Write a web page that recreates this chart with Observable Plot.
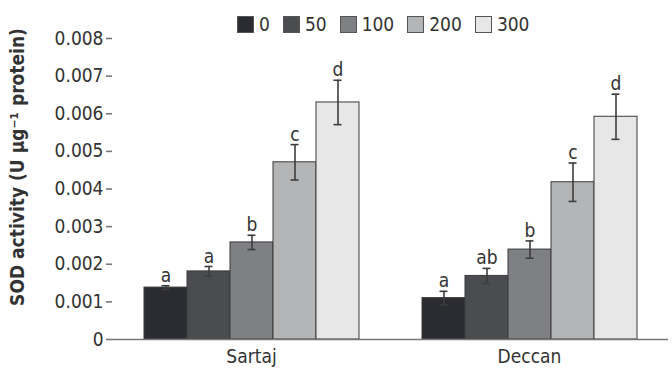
<!DOCTYPE html>
<html><head><meta charset="utf-8">
<script src="https://cdn.jsdelivr.net/npm/d3@7"></script>
<script src="https://cdn.jsdelivr.net/npm/@observablehq/plot@0.6"></script>
<style>
body{margin:0;background:#fff;font-family:"DejaVu Sans Condensed","Liberation Sans",sans-serif;}
#wrap{position:relative;width:672px;height:375px;}
#legend{position:absolute;left:237px;top:15px;display:flex;align-items:center;font-size:19px;color:#333;}
.item{display:flex;align-items:center;margin-right:13px;line-height:19px}
.sw{width:17px;height:17px;border:1px solid #555;box-sizing:border-box;margin-right:5px}
</style></head><body>
<div id="wrap"><div id="chart"></div><div id="legend"></div></div>
<script>
const groups = ["Sartaj", "Deccan"];
const doses = ["0", "50", "100", "200", "300"];
const sartajMeans = [0.00138, 0.00181, 0.00258, 0.00471, 0.00630];
const sartajErrors = [0.00005, 0.00013, 0.00019, 0.00047, 0.00059];
const sartajLetters = ["a", "a", "b", "c", "d"];
const deccanMeans = [0.00110, 0.00169, 0.00239, 0.00418, 0.00592];
const deccanErrors = [0.00018, 0.00020, 0.00023, 0.00051, 0.00060];
const deccanLetters = ["a", "ab", "b", "c", "d"];
const doseColors = ["#2b2c31", "#4a4c50", "#7f8083", "#b4b5b7", "#e7e7e7"];
const yTicks = [0, 0.001, 0.002, 0.003, 0.004, 0.005, 0.006, 0.007, 0.008];
const yTitle = "SOD activity (U µg⁻¹ protein)";

const rows = [];
doses.forEach((d, i) => {
  rows.push({group: "Sartaj", dose: d, mean: sartajMeans[i], err: sartajErrors[i], letter: sartajLetters[i]});
});
doses.forEach((d, i) => {
  rows.push({group: "Deccan", dose: d, mean: deccanMeans[i], err: deccanErrors[i], letter: deccanLetters[i]});
});

// legend
const leg = document.getElementById("legend");
doses.forEach((d, i) => {
  const it = document.createElement("div"); it.className = "item";
  const sw = document.createElement("div"); sw.className = "sw"; sw.style.background = doseColors[i];
  const tx = document.createElement("span"); tx.textContent = d;
  it.appendChild(sw); it.appendChild(tx); leg.appendChild(it);
});

const axisGray = "#777";
const font = "'DejaVu Sans Condensed', 'Liberation Sans', sans-serif";
const lines = Plot.text(groups, {
  fx: d => d, text: d => "",
  render(index, scales, values, dimensions, context) {
    const g = d3.create("svg:g");
    const [x0, x1] = scales.x.range();
    const y0 = scales.y(0), yTop = scales.y(yTicks[yTicks.length - 1]);
    const name = groups[index[0]];
    if (name === groups[0]) {
      g.append("line").attr("x1", x0).attr("x2", x0).attr("y1", yTop).attr("y2", y0 + 1)
        .attr("stroke", axisGray).attr("stroke-width", 1.6);
      g.append("line").attr("x1", x0).attr("x2", x0 + 4).attr("y1", y0).attr("y2", y0)
        .attr("stroke", axisGray).attr("stroke-width", 1.6);
    }
    g.append("line").attr("x1", x1).attr("x2", x1).attr("y1", y0).attr("y2", y0 + 6)
      .attr("stroke", axisGray).attr("stroke-width", 1.6);
    return g.node();
  }
});

const chart = Plot.plot({
  width: 672,
  height: 375,
  marginTop: 38,
  marginBottom: 36,
  marginLeft: 112,
  marginRight: 4,
  style: {fontFamily: font, fontSize: "19px", color: "#333", background: "#fff"},
  fx: {domain: groups, padding: 0, label: null},
  x: {domain: doses, paddingInner: 0, paddingOuter: 0.73, axis: null},
  y: {domain: [0, 0.008], axis: null},
  color: {domain: doses, range: doseColors},
  marks: [
    Plot.axisY({ticks: yTicks, tickSize: 6, tickPadding: 3, tickFormat: d => d === 0 ? "0" : d.toFixed(3), label: null, stroke: axisGray, strokeWidth: 1.6}),
    Plot.axisFx({anchor: "bottom", tickSize: 0, tickPadding: 10, label: null}),
    Plot.barY(rows, {fx: "group", x: "dose", y: "mean", fill: "dose", stroke: "#3a3a3a", strokeWidth: 1}),
    Plot.ruleX(rows, {fx: "group", x: "dose", y1: d => d.mean - d.err, y2: d => d.mean + d.err, stroke: "#3d3d3d", strokeWidth: 1.6}),
    Plot.tickY(rows, {fx: "group", x: "dose", y: d => d.mean + d.err, stroke: "#3d3d3d", strokeWidth: 1.6, insetLeft: 17.5, insetRight: 17.5}),
    Plot.tickY(rows, {fx: "group", x: "dose", y: d => d.mean - d.err, stroke: "#3d3d3d", strokeWidth: 1.6, insetLeft: 17.5, insetRight: 17.5}),
    Plot.text(rows, {fx: "group", x: "dose", y: d => d.mean + d.err, text: "letter", dy: -4, lineAnchor: "bottom", fill: "#333", fontSize: 19}),
    Plot.ruleY([0], {stroke: axisGray, strokeWidth: 1.6}),
    lines,
    Plot.text([{g: "Sartaj", t: yTitle}], {fx: "g", text: "t", frameAnchor: "left", textAnchor: "middle", lineAnchor: "middle", rotate: -90, dx: -95, dy: -22, fontWeight: "bold", fontSize: 19, fill: "#333"})
  ]
});
document.getElementById("chart").appendChild(chart);
</script>
</body></html>
